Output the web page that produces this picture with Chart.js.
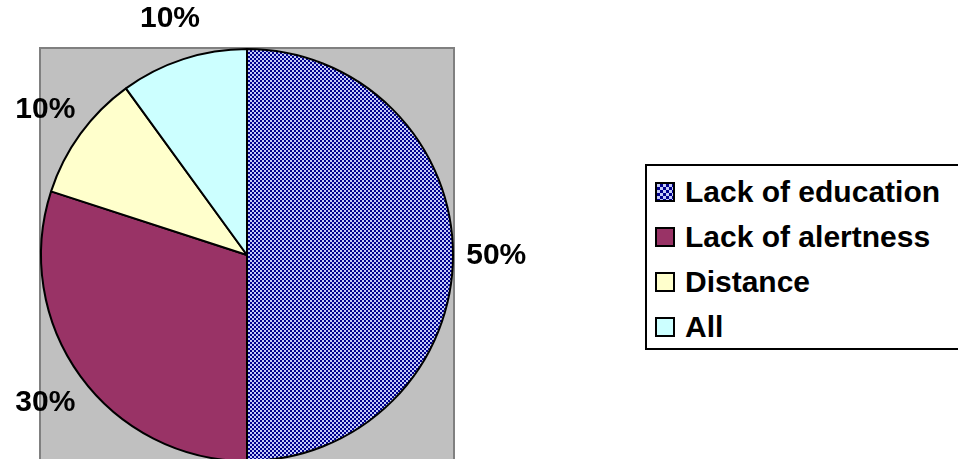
<!DOCTYPE html>
<html>
<head>
<meta charset="utf-8">
<script src="https://cdn.jsdelivr.net/npm/chart.js@4.4.0/dist/chart.umd.min.js"></script>
<style>
  html, body { margin: 0; padding: 0; background: #fff; overflow: hidden; }
  #wrap { position: relative; width: 958px; height: 480px; }
  #legenda {
    position: absolute; left: 645px; top: 164px; width: 330px; height: 179px;
    border: 2px solid #000; background: #fff; padding-top: 3px;
    font-family: "Liberation Sans", Arial, sans-serif; font-weight: bold; font-size: 30px;
  }
  .item { height: 45px; line-height: 45px; display: flex; align-items: center; padding-left: 8px; }
  .cor { width: 16px; height: 16px; border: 2px solid #000; margin-right: 10px; flex: none; }
</style>
</head>
<body>
<div id="wrap">
  <canvas id="pizzaChart" width="958" height="480"></canvas>
  <div id="legenda"></div>
</div>
<script>
const categorias = ["Lack of education", "Lack of alertness", "Distance", "All"];
const valores = [50, 30, 10, 10];
const cores = ["pattern", "#993366", "#FFFFCC", "#CCFFFF"];

// padrao quadriculado azul da primeira fatia
const tile = document.createElement("canvas");
tile.width = 4; tile.height = 4;
const tctx = tile.getContext("2d");
tctx.fillStyle = "#c4caf8";
tctx.fillRect(0, 0, 4, 4);
tctx.fillStyle = "#00008e";
tctx.fillRect(0, 0, 2, 2);
tctx.fillRect(2, 2, 2, 2);

const ctx = document.getElementById("pizzaChart").getContext("2d");
const padrao = ctx.createPattern(tile, "repeat");
const fundo = cores.map(c => c === "pattern" ? padrao : c);

const fundoCinza = {
    id: "fundoCinza",
    beforeDatasetsDraw(chart) {
        const arc = chart.getDatasetMeta(0).data[0];
        const r = arc.outerRadius + 1;
        const c = chart.ctx;
        c.save();
        c.fillStyle = "#c0c0c0";
        c.fillRect(arc.x - r, arc.y - r, 2 * r, 2 * r + 20);
        c.strokeStyle = "#808080";
        c.lineWidth = 2;
        c.strokeRect(arc.x - r, arc.y - r, 2 * r, 2 * r + 20);
        c.restore();
    }
};

const rotulos = {
    id: "rotulos",
    afterDatasetsDraw(chart) {
        const c = chart.ctx;
        const total = valores.reduce((a, b) => a + b, 0);
        c.save();
        c.font = "bold 30px 'Liberation Sans', Arial, sans-serif";
        c.fillStyle = "#000";
        c.textAlign = "center";
        c.textBaseline = "middle";
        chart.getDatasetMeta(0).data.forEach((arc, i) => {
            const meio = (arc.startAngle + arc.endAngle) / 2;
            const d = arc.outerRadius * 1.21;
            const pct = Math.round(valores[i] / total * 100) + "%";
            c.fillText(pct, arc.x + Math.cos(meio) * d, arc.y + Math.sin(meio) * d + 1);
        });
        c.restore();
    }
};

let chartPizza = new Chart(ctx, {
    type: "pie",
    data: {
        labels: categorias,
        datasets: [{ data: valores, backgroundColor: fundo, borderColor: "#000", borderWidth: 2, hoverOffset: 0 }]
    },
    options: {
        responsive: false,
        animation: false,
        layout: { padding: { left: 40, top: 48, right: 504, bottom: 18 } },
        plugins: { legend: { display: false }, tooltip: { enabled: false } }
    },
    plugins: [fundoCinza, rotulos]
});

// legenda em html
let legenda = document.getElementById("legenda");
categorias.forEach((nome, i) => {
    let bg = cores[i] === "pattern"
        ? "background: repeating-conic-gradient(#00008e 0 25%, #c4caf8 0 50%) 0 0/6px 6px;"
        : `background: ${cores[i]};`;
    legenda.innerHTML += `<div class="item"><span class="cor" style="${bg}"></span>${nome}</div>`;
});
</script>
</body>
</html>
